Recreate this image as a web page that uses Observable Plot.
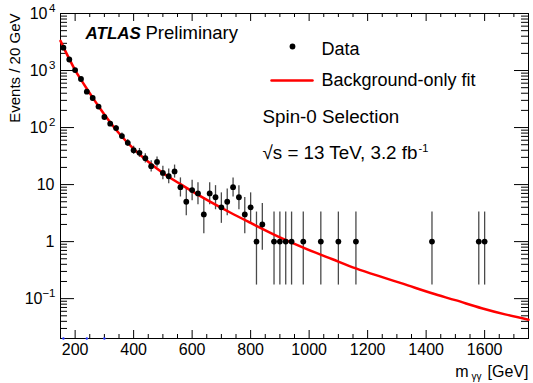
<!DOCTYPE html>
<html><head><meta charset="utf-8">
<script src="https://cdn.jsdelivr.net/npm/d3@7"></script>
<script src="https://cdn.jsdelivr.net/npm/@observablehq/plot@0.6"></script>
<style>body{margin:0;background:#fff}</style>
</head><body><div id="chart"></div>
<script>
// Data: diphoton invariant mass bins (GeV) and event counts
const mass = [160,180,200,220,240,260,280,300,320,340,360,380,400,420,440,460,480,500,520,540,560,580,600,620,640,660,680,700,720,740,760,780,800,820,840,880,900,920,940,980,1040,1100,1160,1420,1580,1600];
const events = [2520,1560,1020,710,425,330,233,153,117,98,71,54,40,36,29,21,25,16,14,17,9,5,8,7,3,7,6,4,5,9,6,3,4,1,2,1,1,1,1,1,1,1,1,1,1,1];
const errLow = [2470,1521,988,683,404,312,218,141,106,88,63,47,34,30,24,16.6,20.1,12.1,10.3,13.0,6.06,2.84,5.23,4.42,1.37,4.42,3.62,2.09,2.84,6.06,3.62,1.37,2.09,0.173,0.708,0.173,0.173,0.173,0.173,0.173,0.173,0.173,0.173,0.173,0.173,0.173];
const errHigh = [2571,1600,1053,738,447,349,249,166,128,109,80,62,47,43,34.7,26.3,30.5,20.9,18.8,22.0,13.1,8.38,11.95,10.77,5.92,10.77,9.58,7.16,8.38,13.1,9.58,5.92,7.16,3.30,4.64,3.30,3.30,3.30,3.30,3.30,3.30,3.30,3.30,3.30,3.30,3.30];
// Background-only fit curve
const fitMass = [150,160,180,200,220,240,260,280,300,350,400,450,500,560,640,730,800,900,980,1080,1160,1250,1320,1420,1500,1590,1670,1750];
const fitValue = [3311,2570,1600,1019,692,479,335,237,170,79.4,42.2,25.1,16.0,10.2,5.78,3.24,2.13,1.19,0.785,0.49,0.339,0.238,0.183,0.124,0.094,0.068,0.053,0.0427];
// small blue markers on the x axis
const blueMarks = [160,240,300];
// Ticks
const xTickValues = [200,400,600,800,1000,1200,1400,1600];
const xTickLabels = ["200","400","600","800","1000","1200","1400","1600"];
const xMinorTicks = [150,250,300,350,450,500,550,650,700,750,850,900,950,1050,1100,1150,1250,1300,1350,1450,1500,1550,1650,1700,1750];
const yTickValues = [1e4,1e3,1e2,10,1,0.1];
const yTickBases = ["10","10","10","10","1","10"];
const yTickExps = ["4","3","2","","","\u22121"];
const yMinorTicks = [];
for (const dec of [0.01,0.1,1,10,100,1000]) for (let m=2;m<=9;m++){const v=m*dec; if(v>=0.02 && v<=1e4) yMinorTicks.push(v);}

const W=533,H=383,mL=60,mR=5,mT=13,mB=45;
const pW=W-mL-mR, pH=H-mT-mB;

const points = mass.map((m,i)=>({m, n:events[i], lo:errLow[i], hi:errHigh[i]}));
const fit = fitMass.map((m,i)=>({m, v:fitValue[i]}));
const yLab = yTickValues.map((v,i)=>({v, base:yTickBases[i], exp:yTickExps[i]}));
const plainLab = yLab.filter(d=>d.exp==="");
const posLab = yLab.filter(d=>d.exp!=="" && !d.exp.startsWith("\u2212"));
const negLab = yLab.filter(d=>d.exp.startsWith("\u2212"));
const F = "Liberation Sans, Arial, Helvetica, sans-serif";

const chart = Plot.plot({
  width:W, height:H, marginLeft:mL, marginRight:mR, marginTop:mT, marginBottom:mB,
  style:{fontFamily:F, fontSize:"16px", background:"white", color:"black"},
  x:{domain:[150,1750], axis:null},
  y:{type:"log", domain:[0.02,1e4], axis:null},
  marks:[
    // ticks (inward, all four sides)
    Plot.ruleX(xTickValues,{x:d=>d, insetTop:pH-8, stroke:"black"}),
    Plot.ruleX(xTickValues,{x:d=>d, insetBottom:pH-8, stroke:"black"}),
    Plot.ruleX(xMinorTicks,{x:d=>d, insetTop:pH-4, stroke:"black"}),
    Plot.ruleX(xMinorTicks,{x:d=>d, insetBottom:pH-4, stroke:"black"}),
    Plot.ruleY(yTickValues,{y:d=>d, insetRight:pW-14, stroke:"black"}),
    Plot.ruleY(yTickValues,{y:d=>d, insetLeft:pW-14, stroke:"black"}),
    Plot.ruleY(yMinorTicks,{y:d=>d, insetRight:pW-7, stroke:"black"}),
    Plot.ruleY(yMinorTicks,{y:d=>d, insetLeft:pW-7, stroke:"black"}),
    Plot.frame({stroke:"black", strokeWidth:1}),
    Plot.dot(blueMarks,{x:d=>d, frameAnchor:"bottom", r:1.2, fill:"#2233ff"}),
    // data error bars, fit, points
    Plot.ruleX(points,{x:"m", y1:"lo", y2:"hi", stroke:"#4a4a4a", strokeWidth:1.3}),
    Plot.line(fit,{x:"m", y:"v", stroke:"#ff0000", strokeWidth:2.5, curve:"monotone-x"}),
    Plot.dot(points,{x:"m", y:"n", r:2.9, fill:"black", stroke:"none"}),
    // x tick labels
    Plot.text(xTickValues,{x:d=>d, text:(d,i)=>xTickLabels[i], frameAnchor:"bottom", lineAnchor:"top", dy:5, fontSize:16}),
    // y tick labels
    Plot.text(plainLab,{y:"v", text:"base", frameAnchor:"left", textAnchor:"end", lineAnchor:"middle", dx:-6, fontSize:16}),
    Plot.text(posLab,{y:"v", text:"base", frameAnchor:"left", textAnchor:"end", lineAnchor:"middle", dx:-13, fontSize:16}),
    Plot.text(negLab,{y:"v", text:"base", frameAnchor:"left", textAnchor:"end", lineAnchor:"middle", dx:-18, fontSize:16}),
    Plot.text(posLab.concat(negLab),{y:"v", text:"exp", frameAnchor:"left", textAnchor:"end", lineAnchor:"middle", dx:-5, dy:-5, fontSize:11.5}),
    // axis titles
    Plot.text(["Events / 20 GeV"],{frameAnchor:"top-left", rotate:-90, textAnchor:"end", lineAnchor:"middle", dx:-45, dy:0, fontSize:15}),
    Plot.text(["[GeV]"],{frameAnchor:"bottom-right", textAnchor:"end", lineAnchor:"bottom", dx:0, dy:38, fontSize:16}),
    Plot.text(["\u03b3\u03b3"],{frameAnchor:"bottom-right", textAnchor:"end", lineAnchor:"bottom", dx:-47, dy:41, fontSize:10}),
    Plot.text(["m"],{frameAnchor:"bottom-right", textAnchor:"end", lineAnchor:"bottom", dx:-60, dy:38, fontSize:16}),
    // ATLAS label
    Plot.text(["ATLAS"],{frameAnchor:"top-left", textAnchor:"start", lineAnchor:"bottom", dx:25, dy:25, fontSize:17, fontWeight:"bold", fontStyle:"italic"}),
    Plot.text(["Preliminary"],{frameAnchor:"top-left", textAnchor:"start", lineAnchor:"bottom", dx:85, dy:25, fontSize:18.5}),
    // legend
    Plot.dot(["Data"],{frameAnchor:"top-left", dx:232, dy:33, r:2.9, fill:"black", stroke:"none"}),
    Plot.text(["Data"],{frameAnchor:"top-left", textAnchor:"start", lineAnchor:"bottom", dx:261, dy:41, fontSize:18}),
    Plot.vector(["fit"],{frameAnchor:"top-left", dx:211, dy:67, length:41, rotate:90, anchor:"start", stroke:"#ff0000", strokeWidth:2.5,
      shape:{draw(c,l){c.moveTo(0,0); c.lineTo(0,-l);}}}),
    Plot.text(["Background-only fit"],{frameAnchor:"top-left", textAnchor:"start", lineAnchor:"bottom", dx:261, dy:72, fontSize:18}),
    Plot.text(["Spin-0 Selection"],{frameAnchor:"top-left", textAnchor:"start", lineAnchor:"bottom", dx:202, dy:109, fontSize:18.8}),
    Plot.text(["\u221as = 13 TeV, 3.2 fb"],{frameAnchor:"top-left", textAnchor:"start", lineAnchor:"bottom", dx:202, dy:145, fontSize:18.8}),
    Plot.text(["-1"],{frameAnchor:"top-left", textAnchor:"start", lineAnchor:"bottom", dx:358, dy:138, fontSize:11})
  ]
});
document.getElementById("chart").appendChild(chart);
</script>
</body></html>
